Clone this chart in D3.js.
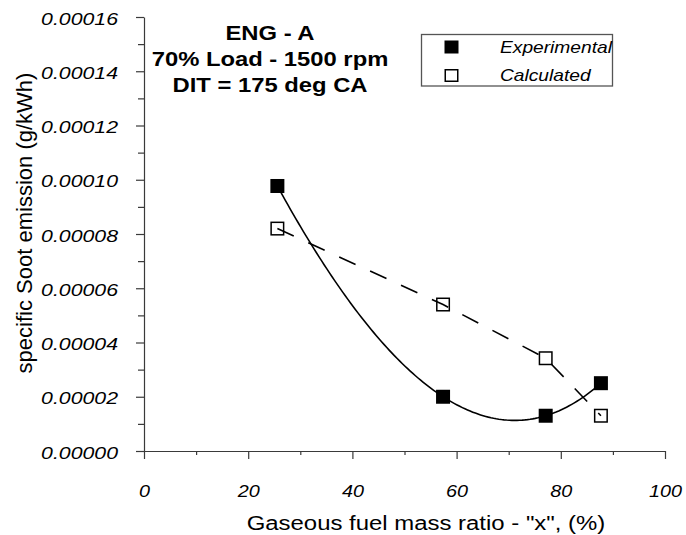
<!DOCTYPE html>
<html>
<head>
<meta charset="utf-8">
<script src="https://cdn.jsdelivr.net/npm/d3@7"></script>
<style>
  body { margin: 0; background: #fff; }
  text { font-family: "Liberation Sans", Arial, sans-serif; }
</style>
</head>
<body>
<script>
// data
var gasRatio = [25.6, 57.4, 77.1, 87.7];
var experimental = [0.0000977, 0.0000200, 0.0000130, 0.0000250];
var calculated = [0.0000820, 0.0000540, 0.0000342, 0.0000130];
var xTicks = [0, 20, 40, 60, 80, 100];
var xMinor = [10, 30, 50, 70, 90];
var yTicks = [0, 0.00002, 0.00004, 0.00006, 0.00008, 0.00010, 0.00012, 0.00014, 0.00016];
var yMinor = [0.00001, 0.00003, 0.00005, 0.00007, 0.00009, 0.00011, 0.00013, 0.00015];
var titleLines = ["ENG - A", "70% Load - 1500 rpm", "DIT = 175 deg CA"];
var legendLabels = ["Experimental", "Calculated"];

var w = 686, h = 535;
var axisColor = "#3a3a3a";

var svg = d3.select("body")
    .append("svg")
    .attr("width", w)
    .attr("height", h);

var xScale = d3.scaleLinear().domain([0, 100]).range([144, 665]);
var yScale = d3.scaleLinear().domain([0, 0.00016]).range([451, 17]);

// the picture is a bit wider than tall, so text is stretched a little
function addText(x, y, str, size, sx, opts) {
    opts = opts || {};
    return svg.append("text")
        .attr("transform", "translate(" + x + "," + y + ") scale(" + sx + ",1)")
        .attr("text-anchor", opts.anchor || "start")
        .attr("font-size", size + "px")
        .attr("font-weight", opts.weight || "normal")
        .attr("font-style", opts.style || "normal")
        .attr("fill", "#000")
        .text(str);
}

// axes
var yAxis = svg.append("g")
    .attr("transform", "translate(" + xScale(0) + ",0)")
    .call(d3.axisLeft(yScale).tickValues(yTicks).tickSize(8).tickSizeOuter(0).tickFormat(d3.format(".5f")));
svg.append("g")
    .attr("transform", "translate(" + xScale(0) + ",0)")
    .call(d3.axisLeft(yScale).tickValues(yMinor).tickSize(6).tickFormat(""))
    .select(".domain").remove();

var xAxis = svg.append("g")
    .attr("transform", "translate(0," + yScale(0) + ")")
    .call(d3.axisBottom(xScale).tickValues(xTicks).tickSize(8).tickSizeOuter(0));
svg.append("g")
    .attr("transform", "translate(0," + yScale(0) + ")")
    .call(d3.axisBottom(xScale).tickValues(xMinor).tickSize(4).tickFormat(""))
    .select(".domain").remove();

svg.selectAll(".domain, .tick line")
    .attr("stroke", axisColor)
    .attr("stroke-width", 1.2);

yAxis.selectAll(".tick text")
    .attr("x", null).attr("dy", null)
    .attr("transform", "translate(-26,7) scale(1.29,1)")
    .attr("font-family", "Liberation Sans, Arial, sans-serif")
    .attr("font-size", "16.5px")
    .attr("font-style", "italic")
    .attr("fill", "#000");
xAxis.selectAll(".tick text")
    .attr("y", null).attr("dy", null)
    .attr("text-anchor", "middle")
    .attr("transform", "translate(0,46) scale(1.2,1)")
    .attr("font-family", "Liberation Sans, Arial, sans-serif")
    .attr("font-size", "16.5px")
    .attr("font-style", "italic")
    .attr("fill", "#000");

// axis titles
addText(426, 530, "Gaseous fuel mass ratio - \"x\", (%)", 21, 1.14, { anchor: "middle" });
svg.append("text")
    .attr("transform", "translate(32,223) rotate(-90)")
    .attr("text-anchor", "middle")
    .attr("font-size", "22px")
    .attr("fill", "#000")
    .text("specific Soot emission (g/kWh)");

// title block
var titleY = [40, 65.5, 91.5];
titleLines.forEach(function (t, i) {
    addText(270, titleY[i], t, 20, 1.19, { anchor: "middle", weight: "bold" });
});

// markers
var mk = 14;
var expPts = gasRatio.map(function (x, i) { return [x, experimental[i]]; });
var calcPts = gasRatio.map(function (x, i) { return [x, calculated[i]]; });

svg.selectAll("rect.exp")
    .data(expPts)
    .enter()
    .append("rect")
    .attr("class", "exp")
    .attr("x", function (d) { return xScale(d[0]) - mk / 2; })
    .attr("y", function (d) { return yScale(d[1]) - mk / 2; })
    .attr("width", mk)
    .attr("height", mk)
    .attr("fill", "#000");

svg.selectAll("rect.calc")
    .data(calcPts)
    .enter()
    .append("rect")
    .attr("class", "calc")
    .attr("x", function (d) { return xScale(d[0]) - mk / 2 + 0.75; })
    .attr("y", function (d) { return yScale(d[1]) - mk / 2 + 0.75; })
    .attr("width", mk - 1.5)
    .attr("height", mk - 1.5)
    .attr("fill", "none")
    .attr("stroke", "#000")
    .attr("stroke-width", 1.5);

// polynomial (order 3) trendline through the experimental points
function poly3(x) {
    var s = 0;
    for (var i = 0; i < gasRatio.length; i++) {
        var l = 1;
        for (var j = 0; j < gasRatio.length; j++) {
            if (j !== i) l *= (x - gasRatio[j]) / (gasRatio[i] - gasRatio[j]);
        }
        s += l * experimental[i];
    }
    return s;
}
var xs = d3.range(gasRatio[0], gasRatio[gasRatio.length - 1], 0.5).concat([gasRatio[gasRatio.length - 1]]);

var line = d3.line()
    .x(function (d) { return xScale(d[0]); })
    .y(function (d) { return yScale(d[1]); });

svg.append("path")
    .datum(xs.map(function (x) { return [x, poly3(x)]; }))
    .attr("d", line)
    .attr("fill", "none")
    .attr("stroke", "#000")
    .attr("stroke-width", 1.6);

svg.append("path")
    .datum(calcPts)
    .attr("d", line)
    .attr("fill", "none")
    .attr("stroke", "#000")
    .attr("stroke-width", 1.6)
    .attr("stroke-dasharray", "18,16");

// legend
svg.append("rect")
    .attr("x", 421.5)
    .attr("y", 34.5)
    .attr("width", 191)
    .attr("height", 51.5)
    .attr("fill", "none")
    .attr("stroke", "#555")
    .attr("stroke-width", 1.3);

svg.append("rect")
    .attr("x", 444.5).attr("y", 40.5)
    .attr("width", 14).attr("height", 13)
    .attr("fill", "#000");
svg.append("rect")
    .attr("x", 445.25).attr("y", 69.75)
    .attr("width", 12.5).attr("height", 11.5)
    .attr("fill", "#fff")
    .attr("stroke", "#000")
    .attr("stroke-width", 1.5);

addText(500, 52.5, legendLabels[0], 16, 1.2, { style: "italic" });
addText(500, 81, legendLabels[1], 16, 1.2, { style: "italic" });
</script>
</body>
</html>
